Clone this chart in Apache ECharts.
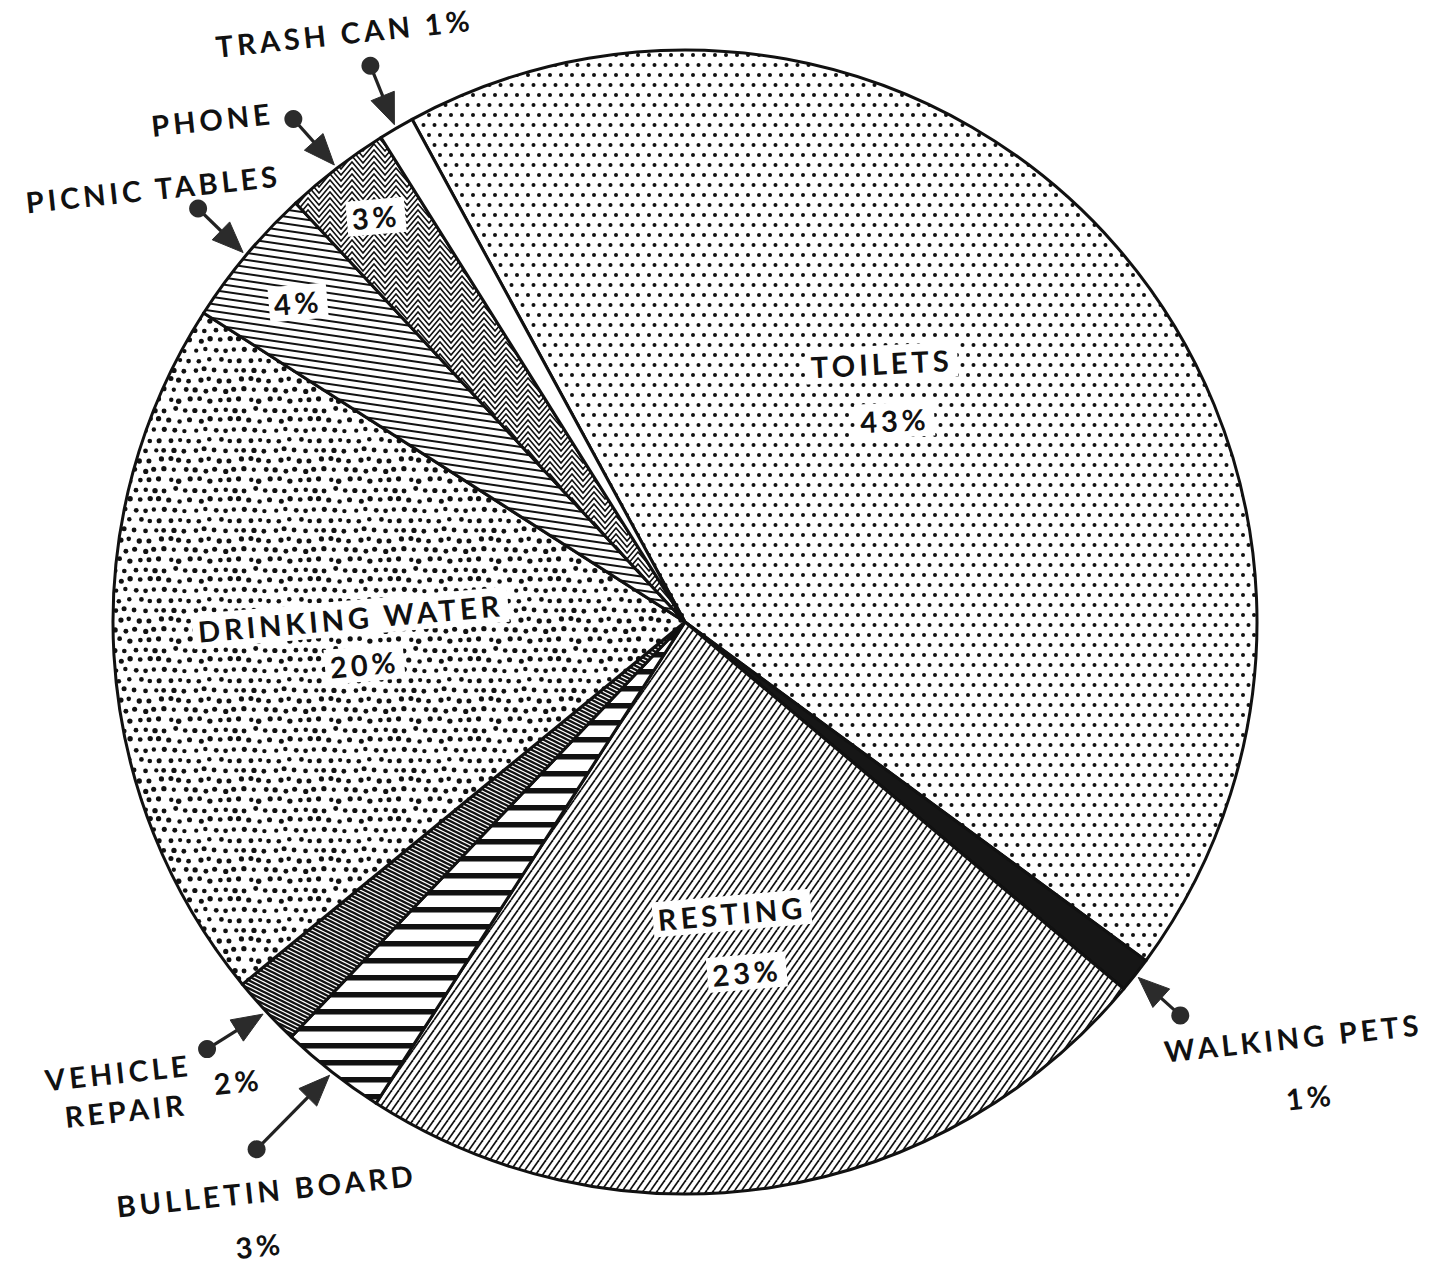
<!DOCTYPE html>
<html>
<head>
<meta charset="utf-8">
<script src="https://cdn.jsdelivr.net/npm/echarts@6/dist/echarts.min.js"></script>
<style>
  html, body { margin: 0; padding: 0; background: #fff; }
  #chart { width: 1448px; height: 1266px; }
  #chart text { letter-spacing: 4px; }
</style>
</head>
<body>
<div id="chart"></div>
<script>
// Rest area facility use, share of visitors (%)
const categories = ['TOILETS', 'WALKING PETS', 'RESTING', 'BULLETIN BOARD', 'VEHICLE REPAIR',
                    'DRINKING WATER', 'PICNIC TABLES', 'PHONE', 'TRASH CAN'];
const shares = [43, 1, 23, 3, 2, 20, 4, 3, 1];

// slices whose caption is printed inside the wedge (small ones carry only the percent)
const insideCaptions = ['TOILETS', 'RESTING', 'DRINKING WATER', 'PICNIC TABLES', 'PHONE'];
const namedInside = ['TOILETS', 'RESTING', 'DRINKING WATER'];
// slices labelled outside with a pointer arrow
const callouts = ['TRASH CAN', 'PHONE', 'PICNIC TABLES', 'VEHICLE REPAIR', 'BULLETIN BOARD', 'WALKING PETS'];

const FONT_FAMILY = 'Lato, "DejaVu Sans", sans-serif';
const INK = '#111';

// ---------- fill textures ----------
function tile(w, h, draw) {
  const c = document.createElement('canvas');
  c.width = w; c.height = h;
  const g = c.getContext('2d');
  g.fillStyle = '#fff'; g.fillRect(0, 0, w, h);
  g.fillStyle = INK; g.strokeStyle = INK;
  draw(g, w, h);
  return { image: c, repeat: 'repeat' };
}
function dot(g, x, y, r, w, h) {
  for (const ox of [-w, 0, w]) for (const oy of [-h, 0, h]) {
    g.beginPath(); g.arc(x + ox, y + oy, r, 0, Math.PI * 2); g.fill();
  }
}
function hash(i, k) {
  const s = Math.sin(i * 12.9898 + k * 78.233) * 43758.5453;
  return s - Math.floor(s) - 0.5;
}
const fills = {
  // light even stipple
  'TOILETS': tile(22, 20, (g, w, h) => {
    dot(g, 5.5, 5, 2.0, w, h); dot(g, 16.5, 5, 2.0, w, h);
    dot(g, 0, 15, 2.0, w, h); dot(g, 11, 15, 2.0, w, h);
  }),
  // heavier irregular stipple
  'DRINKING WATER': tile(80, 80, (g, w, h) => {
    const sx = 10, sy = 10;
    for (let j = 0; j < 8; j++) for (let i = 0; i < 8; i++) {
      const x = i * sx + (j % 2 ? sx / 2 : 0) + hash(i, j) * 3;
      const y = j * sy + hash(j + 7, i + 3) * 3;
      dot(g, x, y, 2.4 + hash(i + 11, j) * 0.6, w, h);
    }
  }),
  // fine rising hatch
  'RESTING': tile(7, 10, (g, w, h) => {
    g.lineWidth = 1.7;
    for (const ox of [-w, 0, w]) {
      g.beginPath(); g.moveTo(ox, h); g.lineTo(ox + w, 0); g.stroke();
    }
  }),
  // heavy horizontal bands
  'BULLETIN BOARD': tile(8, 17, (g, w, h) => {
    g.fillRect(0, 6, w, 5.5);
  }),
  // dense falling hatch, reads as grey
  'VEHICLE REPAIR': tile(8, 4, (g, w, h) => {
    g.lineWidth = 2.4;
    for (const oy of [-h, 0, h]) {
      g.beginPath(); g.moveTo(-1, oy - 0.5); g.lineTo(w + 1, oy + h + 0.5); g.stroke();
    }
  }),
  // near-horizontal ruling
  'PICNIC TABLES': tile(48, 7, (g, w, h) => {
    g.lineWidth = 2;
    for (const oy of [-h, 0, h]) {
      g.beginPath(); g.moveTo(-2, oy - 0.3); g.lineTo(w + 2, oy + h + 0.3); g.stroke();
    }
  }),
  // chevron zigzag
  'PHONE': tile(22, 6, (g, w, h) => {
    g.lineWidth = 1.6;
    for (let oy = -18; oy <= 18; oy += h) {
      g.beginPath();
      g.moveTo(-11, oy + 13); g.lineTo(0, oy); g.lineTo(11, oy + 13); g.lineTo(22, oy); g.lineTo(33, oy + 13);
      g.stroke();
    }
  }),
  'TRASH CAN': '#ffffff',
  'WALKING PETS': '#161616'
};

const pieData = categories.map((name, i) => ({
  name,
  value: shares[i],
  itemStyle: { color: fills[name] }
}));

const chart = echarts.init(document.getElementById('chart'), null, { renderer: 'svg' });

chart.setOption({
  backgroundColor: '#ffffff',
  animation: false,
  series: [{
    type: 'pie',
    center: [685, 622],
    radius: 572,
    startAngle: 118.5,
    clockwise: true,
    silent: true,
    label: { show: false },
    labelLine: { show: false },
    emphasis: { disabled: true },
    itemStyle: { borderColor: INK, borderWidth: 3 },
    data: pieData
  }]
});

// ---------- captions and pointers, placed from the pie's own layout ----------
const deg = Math.PI / 180;
const pct = i => shares[i] + '%';

const insideStyle = {
  'TOILETS':        { rf: 0.535, dA: -7.9, rot: 3, lines: [[-6, -28], [7, 29]] },
  'RESTING':        { rf: 0.567, dA: -0.5, rot: 5, lines: [[-7, -29], [8, 30]] },
  'DRINKING WATER': { rf: 0.577, dA: 0,    rot: 5, lines: [[-7, -23], [7, 23]] },
  'PICNIC TABLES':  { rf: 0.880, dA: -0.5, rot: 5, lines: [[0, 0]] },
  'PHONE':          { rf: 0.893, dA: 0,    rot: 5, lines: [[0, 0]] }
};
const calloutStyle = {
  'TRASH CAN':      { tail: [-24, -59], rot: 6, texts: [['{n} {p}', -28, -33]] },
  'PHONE':          { tail: [-41, -46], rot: 6, texts: [['{n}', -83, 0]] },
  'PICNIC TABLES':  { tail: [-45, -44], rot: 6, texts: [['{n}', -47, -20]] },
  'VEHICLE REPAIR': { tail: [-56, 35],  rot: 6, texts: [['{w0}', -91, 23], ['{w1}', -83, 61], ['{p}', 29, 32]] },
  'BULLETIN BOARD': { tail: [-73, 74],  rot: 6, texts: [['{n}', 8, 41], ['{p}', 1, 96]] },
  'WALKING PETS':   { tail: [42, 38],   rot: 6, texts: [['{n}', 111, 22], ['{p}', 128, 81]] }
};

const FONT = 'bold 29px ' + FONT_FAMILY;
const LS = 4; // letter spacing applied through CSS

function textEl(str, x, y, rotDeg, boxed) {
  const style = {
    text: str, x: 0, y: 0, align: 'center', verticalAlign: 'middle',
    font: FONT, fill: INK
  };
  if (boxed) {
    style.backgroundColor = '#fff';
    style.padding = [3, 5 + LS * str.length / 2];
  }
  return { type: 'text', x: x + LS / 2, y, rotation: rotDeg * deg, z: 10, style };
}

function render() {
  const data = chart.getModel().getSeriesByIndex(0).getData();
  const els = [];
  const idx = name => categories.indexOf(name);

  insideCaptions.forEach(name => {
    const i = idx(name);
    const L = data.getItemLayout(i);
    const s = insideStyle[name];
    const a = (L.startAngle + L.endAngle) / 2 + s.dA * deg;
    const cx = L.cx + L.r * s.rf * Math.cos(a);
    const cy = L.cy + L.r * s.rf * Math.sin(a);
    const strs = namedInside.includes(name) ? [name, pct(i)] : [pct(i)];
    strs.forEach((str, k) => {
      els.push(textEl(str, cx + s.lines[k][0], cy + s.lines[k][1], s.rot, true));
    });
  });

  callouts.forEach(name => {
    const i = idx(name);
    const L = data.getItemLayout(i);
    const s = calloutStyle[name];
    const a = (L.startAngle + L.endAngle) / 2;
    const tx = L.cx + (L.r + 4) * Math.cos(a);
    const ty = L.cy + (L.r + 4) * Math.sin(a);
    const dx = tx + s.tail[0], dy = ty + s.tail[1];
    const len = Math.hypot(s.tail[0], s.tail[1]);
    const ux = -s.tail[0] / len, uy = -s.tail[1] / len;
    const head = 31, half = 12.5;
    const bx = tx - ux * head, by = ty - uy * head;
    els.push({ type: 'line', z: 12, shape: { x1: dx, y1: dy, x2: bx + ux * 2, y2: by + uy * 2 },
               style: { stroke: '#222', lineWidth: 3.2 } });
    els.push({ type: 'polygon', z: 13, shape: { points: [
      [tx, ty], [bx - uy * half, by + ux * half], [bx + uy * half, by - ux * half]] },
      style: { fill: '#2b2b2b', stroke: '#2b2b2b', lineWidth: 1 } });
    els.push({ type: 'circle', z: 13, shape: { cx: dx, cy: dy, r: 9 }, style: { fill: '#2b2b2b' } });
    const words = name.split(' ');
    s.texts.forEach(([tpl, ox, oy]) => {
      const str = tpl.replace('{n}', name).replace('{p}', pct(i))
                     .replace('{w0}', words[0]).replace('{w1}', words[1] || '');
      els.push(textEl(str, dx + ox, dy + oy, s.rot, false));
    });
  });

  chart.setOption({ graphic: els });
}
render();
</script>
</body>
</html>
